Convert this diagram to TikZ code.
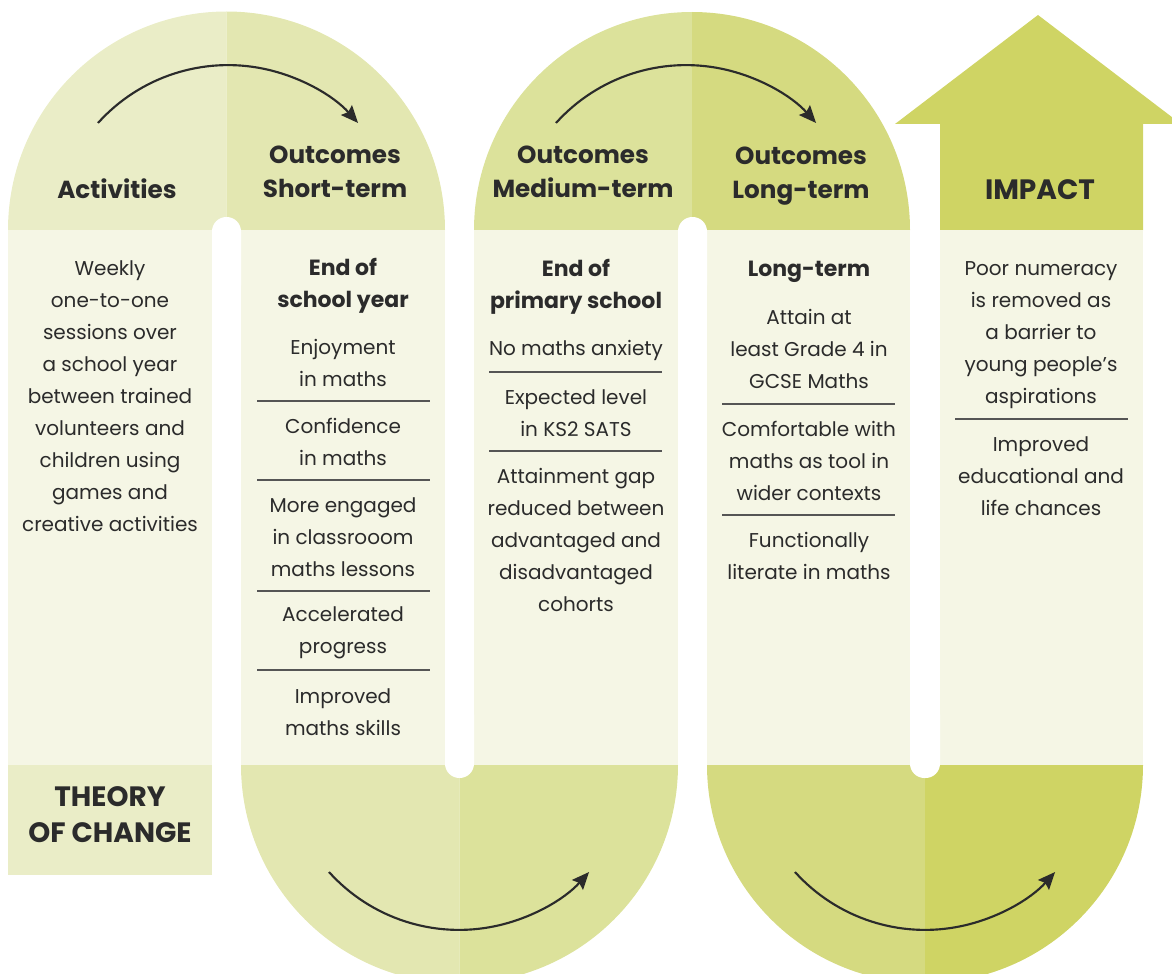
\documentclass[tikz,border=0pt]{standalone}
\usepackage{fontspec}
\setmainfont{Poppins}
\usetikzlibrary{arrows.meta}
\definecolor{tintA}{HTML}{EAEDC7}
\definecolor{tintB}{HTML}{E3E7B1}
\definecolor{tintC}{HTML}{DCE29B}
\definecolor{tintD}{HTML}{D5DA80}
\definecolor{tintE}{HTML}{CFD464}
\definecolor{cream}{HTML}{F5F6E5}
\definecolor{ink}{HTML}{2B2B2B}
\begin{document}
\begin{tikzpicture}
[x=0.75pt,y=-0.75pt,>={Stealth[length=13pt,width=11pt,inset=2pt]},
 head/.style = {text=ink, align=center, font=\fontsize{18.5}{25.5}\selectfont\bfseries},
 stamp/.style = {text=ink, align=center, font=\fontsize{21}{27}\selectfont\bfseries},
 sub/.style = {text=ink, align=center, font=\fontsize{16.5}{24}\selectfont\bfseries},
 body/.style = {text=ink, align=center, font=\fontsize{15}{24}\selectfont},
 rule/.style = {draw=ink!80, line width=0.8pt},
 gap/.style = {white, rounded corners=10.8pt},
 turn/.style = {->, draw=ink, line width=1.6pt},]

\useasboundingbox (0,0) rectangle (1172,974);
\clip (0,0) rectangle (1172,974);

% top arches
\fill[tintA] (226.5,230) -- (8,230) arc[start angle=180, end angle=270, radius=218.5] -- cycle;
\fill[tintB] (226.5,230) -- (226.5,11.5) arc[start angle=270, end angle=360, radius=218.5] -- cycle;
\fill[tintC] (692,230) -- (474,230) arc[start angle=180, end angle=270, radius=218] -- cycle;
\fill[tintD] (692,230) -- (692,12) arc[start angle=270, end angle=360, radius=218] -- cycle;
% bottom arches
\fill[tintB] (459.5,765) -- (241,765) arc[start angle=180, end angle=90, radius=218.5] -- cycle;
\fill[tintC] (459.5,765) -- (459.5,983.5) arc[start angle=90, end angle=0, radius=218.5] -- cycle;
\fill[tintD] (925,765) -- (707,765) arc[start angle=180, end angle=90, radius=218] -- cycle;
\fill[tintE] (925,765) -- (925,983) arc[start angle=90, end angle=0, radius=218] -- cycle;
% impact arrow
\fill[tintE] (940,230) -- (940,124) -- (895,124) -- (1038,15) -- (1181,124) -- (1143,124) -- (1143,230) -- cycle;

% column bodies
\fill[cream] (8,230) rectangle (212,765);
\fill[cream] (241,230) rectangle (445,765);
\fill[cream] (474,230) rectangle (678,765);
\fill[cream] (707,230) rectangle (910,765);
\fill[cream] (940,230) rectangle (1143,765);
\fill[tintA] (8,765) rectangle (212,875);

% gaps
\fill[gap] (212,217) rectangle (241,300);
\fill[gap] (445,700) rectangle (474,778);
\fill[gap] (678,217) rectangle (707,300);
\fill[gap] (910,700) rectangle (940,778);

% turning arrows
\draw[turn] (98,123) arc[start angle=222, end angle=318, radius=175];
\draw[turn] (556,123) arc[start angle=222, end angle=318, radius=175];
\draw[turn] (329,872) arc[start angle=138, end angle=42, radius=175];
\draw[turn] (795,872) arc[start angle=138, end angle=42, radius=175];

% headings
\node (act) at (117,189) [head] {Activities};
\node (short) at (335,172) [head] {Outcomes\\Short-term};
\node (medium) at (583,172) [head] {Outcomes\\Medium-term};
\node (long) at (801,176) [head] {Outcomes\\Long-term};
\node (impact) at (1040,190) [stamp] {IMPACT};
\node (toc) at (110,815) [stamp] {THEORY\\OF CHANGE};

% activities
\node (acttext) at (110,396.5) [body] {Weekly\\one-to-one\\sessions over\\a school year\\between trained\\volunteers and\\children using\\games and\\creative activities};

% short-term
\node (sthead) at (343,286) [sub] {End of\\school year};
\node (st1) at (343,363) [body] {Enjoyment\\in maths};
\node (st2) at (343,442) [body] {Confidence\\in maths};
\node (st3) at (343,537) [body] {More engaged\\in classrooom\\maths lessons};
\node (st4) at (343,633) [body] {Accelerated\\progress};
\node (st5) at (343,712) [body] {Improved\\maths skills};
\draw[rule] (257,401) -- (430,401);
\draw[rule] (257,480) -- (430,480);
\draw[rule] (257,591) -- (430,591);
\draw[rule] (257,670) -- (430,670);

% medium-term
\node (mthead) at (576,287) [sub] {End of\\primary school};
\node (mt1) at (576,350) [body] {No maths anxiety};
\node (mt2) at (576,413) [body] {Expected level\\in KS2 SATS};
\node (mt3) at (576,540) [body] {Attainment gap\\reduced between\\advantaged and\\disadvantaged\\cohorts};
\draw[rule] (489,372) -- (662,372);
\draw[rule] (489,451) -- (662,451);

% long-term
\node (lthead) at (809,272) [sub] {Long-term};
\node (lt1) at (809,349) [body] {Attain at\\least Grade 4 in\\GCSE Maths};
\node (lt2) at (809,461) [body] {Comfortable with\\maths as tool in\\wider contexts};
\node (lt3) at (809,556) [body] {Functionally\\literate in maths};
\draw[rule] (722,404) -- (895,404);
\draw[rule] (722,515) -- (895,515);

% impact
\node (imp1) at (1041,335) [body] {Poor numeracy\\is removed as\\a barrier to\\young people’s\\aspirations};
\node (imp2) at (1041,476) [body] {Improved\\educational and\\life chances};
\draw[rule] (955,419) -- (1128,419);
\end{tikzpicture}
\end{document}
